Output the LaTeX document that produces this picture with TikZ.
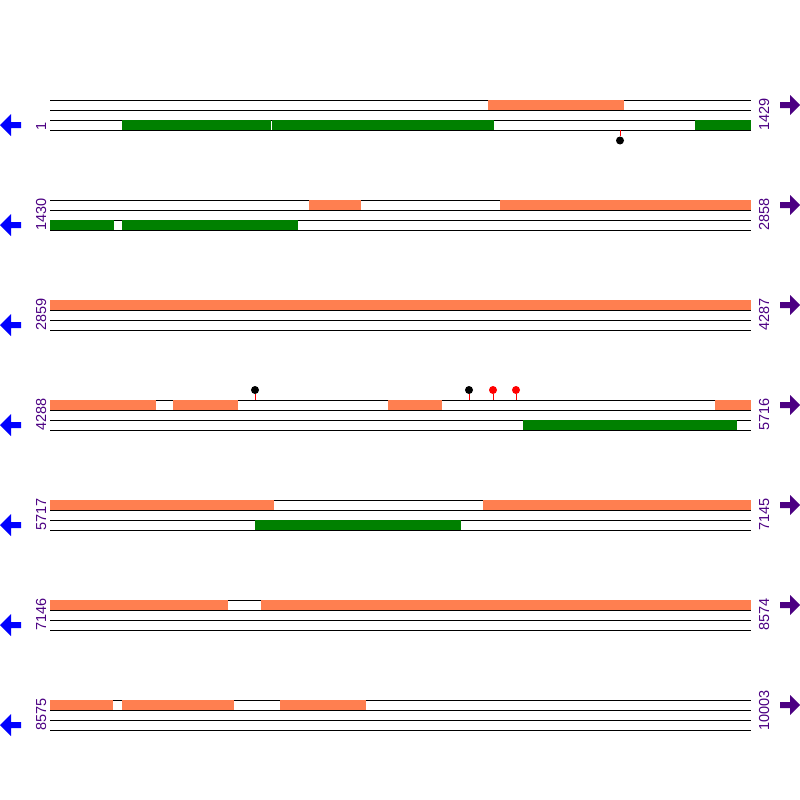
\documentclass[tikz,border=0pt]{standalone}
\usepackage{fontspec}
\setsansfont{Liberation Sans}
\usetikzlibrary{positioning}
\definecolor{fwdorange}{RGB}{255,127,80}
\definecolor{revgreen}{RGB}{0,128,0}
\definecolor{posindigo}{RGB}{75,0,130}
\tikzset{
strand/.style = {draw=black, line width=1pt},% brin
fwd_f/.style = {fill=fwdorange},% element sur le brin direct
rev_f/.style = {fill=revgreen},% element sur le brin inverse
pos_l/.style = {rotate=90, anchor=base west, inner sep=0pt, text=posindigo,
font=\sffamily\fontsize{14.5}{14.5}\selectfont},% position
stick/.style = {draw=red, line width=1pt},
site/.style = {circle, inner sep=0pt, minimum size=8pt}
}
\begin{document}
\begin{tikzpicture}[x=1pt,y=-1pt]
	\useasboundingbox (0,0) rectangle (800,800);
	% brins et positions
	\foreach \r/\s/\e in {0/1/1429, 1/1430/2858, 2/2859/4287, 3/4288/5716,
	  4/5717/7145, 5/7146/8574, 6/8575/10003} {
	  \foreach \dy in {0,10,20,30}
	    \draw[strand] (50,{100*\r+100+\dy}) -- (751,{100*\r+100+\dy});
	  \node [pos_l] (start\r) at (46,{100*\r+131}) {\s};
	  \node [pos_l] (end\r) at (769,{100*\r+131}) {\e};
	  \fill[blue] (0,{100*\r+125}) -- (11,{100*\r+114}) -- (11,{100*\r+122})
	    -- (21,{100*\r+122}) -- (21,{100*\r+128}) -- (11,{100*\r+128})
	    -- (11,{100*\r+136}) -- cycle;
	  \fill[posindigo] (800,{100*\r+105}) -- (790,{100*\r+95}) -- (790,{100*\r+102})
	    -- (780,{100*\r+102}) -- (780,{100*\r+108}) -- (790,{100*\r+108})
	    -- (790,{100*\r+115}) -- cycle;
	}
	% brin direct
	\foreach \r/\a/\b in {0/488/624, 1/309/361, 1/500/751, 2/50/751,
	  3/50/156, 3/173/238, 3/388/442, 3/715/751, 4/50/274, 4/483/751,
	  5/50/228, 5/261/751, 6/50/113, 6/122/234, 6/280/366}
	  \fill[fwd_f] (\a,{100*\r+100}) rectangle (\b,{100*\r+110});
	% brin inverse
	\foreach \r/\a/\b in {0/122/271, 0/272/494, 0/695/751, 1/50/114,
	  1/122/298, 3/523/737, 4/255/461}
	  \fill[rev_f] (\a,{100*\r+120}) rectangle (\b,{100*\r+130});
	% sites
	\node [site, fill=black] (s1) at (620,140.5) {};
	\draw[stick] (620,130) -- (s1);
	\foreach \x/\c [count=\i from 2] in {255/black, 469/black, 493/red, 516/red} {
	  \node [site, fill=\c] (s\i) at (\x,390) {};
	  \draw[stick] (s\i) -- (\x,400);
	}
\end{tikzpicture}
\end{document}
